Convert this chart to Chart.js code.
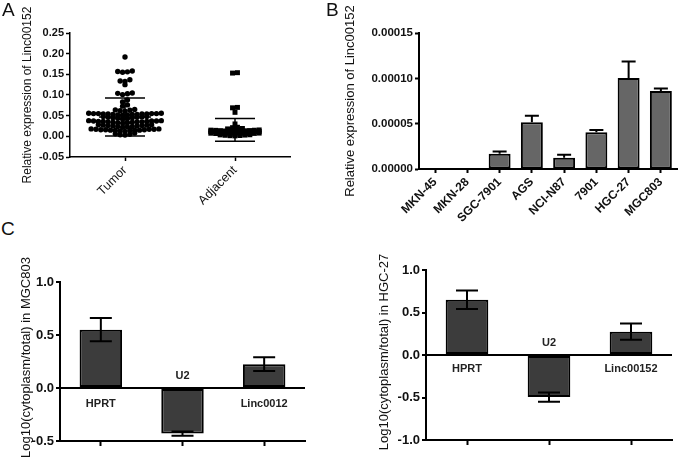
<!DOCTYPE html>
<html>
<head>
<meta charset="utf-8">
<script src="https://cdn.jsdelivr.net/npm/chart.js"></script>
<style>
  body { margin: 0; background: #fff; width: 685px; height: 457px; position: relative; overflow: hidden; font-family: "Liberation Sans", Arial, sans-serif; }
  canvas { position: absolute; }
  .tag { position: absolute; font-size: 19px; line-height: 19px; color: #111; }
</style>
</head>
<body>
<canvas id="chartA" width="300" height="215" style="left:0;top:0"></canvas>
<canvas id="chartB" width="385" height="230" style="left:300px;top:0"></canvas>
<canvas id="chartC1" width="330" height="217" style="left:0;top:240px"></canvas>
<canvas id="chartC2" width="345" height="217" style="left:340px;top:240px"></canvas>
<div class="tag" style="left:2px;top:0">A</div>
<div class="tag" style="left:326px;top:0">B</div>
<div class="tag" style="left:1px;top:219px">C</div>
<script>
// --- panel A : Linc00152 in tissue ---
const groupsA = ['Tumor', 'Adjacent'];
const groupPosA = [1, 3];
const tumorValues = [
  0.192,
  0.157, 0.155, 0.156, 0.158,
  0.137, 0.134, 0.133, 0.125,
  0.105, 0.103, 0.104, 0.101,
  0.088, 0.083, 0.076, 0.073,
  0.065, 0.063, 0.062, 0.064, 0.061,
  0.056, 0.055, 0.054, 0.055, 0.053, 0.054, 0.052, 0.056, 0.055, 0.053, 0.054, 0.052, 0.055, 0.051, 0.053, 0.054,
  0.048, 0.046, 0.047, 0.045, 0.044, 0.048, 0.043, 0.046, 0.042, 0.045,
  0.038, 0.037, 0.036, 0.035, 0.037, 0.034, 0.036, 0.033, 0.035, 0.038, 0.034, 0.036, 0.032, 0.035, 0.037, 0.033,
  0.028, 0.027, 0.026, 0.025, 0.027, 0.024, 0.026, 0.023, 0.025, 0.022, 0.028, 0.024,
  0.018, 0.017, 0.016, 0.015, 0.017, 0.014, 0.016, 0.013, 0.015, 0.018, 0.014, 0.016, 0.012, 0.015, 0.017,
  0.008, 0.006, 0.005, 0.004, 0.003
];
const adjacentValues = [
  0.154, 0.153,
  0.070, 0.069, 0.058,
  0.030,
  0.022, 0.021,
  0.019, 0.018, 0.017, 0.0165,
  0.0155, 0.015, 0.0148, 0.0145, 0.014, 0.0138, 0.0135, 0.013, 0.0128, 0.0125, 0.0121,
  0.0118, 0.0115, 0.011, 0.0108, 0.0105, 0.010, 0.0098, 0.0095, 0.009, 0.0088, 0.0085, 0.0081,
  0.0078, 0.0075, 0.007, 0.0068, 0.0065, 0.006, 0.0058, 0.0055, 0.005, 0.0045, 0.0042,
  0.0038, 0.0035, 0.003, 0.0025, 0.002, 0.0015, 0.001
];
const meanA = [0.047, 0.0155];
const sdA = [0.046, 0.0275];
const ticksA = [-0.05, 0, 0.05, 0.10, 0.15, 0.20, 0.25];

// --- panel B : cell lines ---
const cellLines = ['MKN-45', 'MKN-28', 'SGC-7901', 'AGS', 'NCI-N87', '7901', 'HGC-27', 'MGC803'];
const cellExpr = [0.0000005, 0.000001, 0.0000168, 0.0000515, 0.0000124, 0.0000405, 0.0001004, 0.000086];
const cellErr = [0, 0, 0.0000025, 0.0000073, 0.0000033, 0.0000025, 0.0000182, 0.0000027];
const ticksB = [0, 0.00005, 0.0001, 0.00015];

// --- panel C : cytoplasm / total ---
const fractionsMGC = ['HPRT', 'U2', 'Linc0012'];
const mgcLog = [0.55, -0.43, 0.225];
const mgcErr = [0.11, 0.02, 0.065];
const ticksC1 = [-0.5, 0, 0.5, 1.0];

const fractionsHGC = ['HPRT', 'U2', 'Linc00152'];
const hgcLog = [0.65, -0.495, 0.275];
const hgcErr = [0.11, 0.055, 0.095];
const ticksC2 = [-1.0, -0.5, 0, 0.5, 1.0];

Chart.defaults.font.family = '"Liberation Sans", Arial, sans-serif';
Chart.defaults.color = '#111';
Chart.defaults.animation = false;
Chart.defaults.responsive = false;
Chart.defaults.plugins.legend.display = false;
Chart.defaults.plugins.tooltip.enabled = false;

// rotated axis title, drawn without squeezing
const sideTitle = {
  id: 'sideTitle',
  afterDraw(chart, args, o) {
    const { ctx, chartArea } = chart;
    ctx.save();
    ctx.translate(o.x, (chartArea.top + chartArea.bottom) / 2 + (o.dy || 0));
    ctx.rotate(-Math.PI / 2);
    ctx.font = o.font;
    ctx.fillStyle = '#111';
    ctx.textAlign = 'center';
    ctx.textBaseline = 'middle';
    ctx.fillText(o.text, 0, 0);
    ctx.restore();
  }
};

const errorBars = {
  id: 'errorBars',
  afterDatasetsDraw(chart, args, o) {
    const { ctx } = chart;
    const y = chart.scales.y;
    const ds = chart.data.datasets[0];
    ctx.save();
    ctx.strokeStyle = '#000';
    ctx.lineWidth = o.lineWidth;
    chart.getDatasetMeta(0).data.forEach((bar, i) => {
      const v = ds.data[i], e = o.err[i];
      if (!e) return;
      const sign = v < 0 ? -1 : 1;
      const far = y.getPixelForValue(v + sign * e);
      const near = o.oneSided ? y.getPixelForValue(v) : y.getPixelForValue(v - sign * e);
      ctx.beginPath();
      ctx.moveTo(bar.x, near); ctx.lineTo(bar.x, far);
      ctx.moveTo(bar.x - o.cap, far); ctx.lineTo(bar.x + o.cap, far);
      if (!o.oneSided) { ctx.moveTo(bar.x - o.cap, near); ctx.lineTo(bar.x + o.cap, near); }
      ctx.stroke();
    });
    ctx.restore();
  }
};

const barLabels = {
  id: 'barLabels',
  afterDatasetsDraw(chart, args, o) {
    const { ctx } = chart;
    const y0 = chart.scales.y.getPixelForValue(0);
    const ds = chart.data.datasets[0];
    ctx.save();
    ctx.font = o.font;
    ctx.fillStyle = '#222';
    ctx.textAlign = 'center';
    ctx.textBaseline = 'middle';
    chart.getDatasetMeta(0).data.forEach((bar, i) => {
      const ty = ds.data[i] >= 0 ? y0 + o.below : y0 - o.above;
      ctx.fillText(chart.data.labels[i], bar.x, ty);
    });
    ctx.restore();
  }
};

const meanSd = {
  id: 'meanSd',
  afterDatasetsDraw(chart, args, o) {
    const { ctx, scales: { x, y } } = chart;
    ctx.save();
    ctx.strokeStyle = '#000';
    ctx.lineWidth = 1.5;
    o.pos.forEach((p, i) => {
      const cx = x.getPixelForValue(p);
      const m = y.getPixelForValue(o.mean[i]);
      const hi = y.getPixelForValue(o.mean[i] + o.sd[i]);
      const lo = y.getPixelForValue(o.mean[i] - o.sd[i]);
      ctx.beginPath();
      ctx.moveTo(cx, hi); ctx.lineTo(cx, lo);
      ctx.moveTo(cx - o.meanHalf, m); ctx.lineTo(cx + o.meanHalf, m);
      ctx.moveTo(cx - o.capHalf, hi); ctx.lineTo(cx + o.capHalf, hi);
      ctx.moveTo(cx - o.capHalf, lo); ctx.lineTo(cx + o.capHalf, lo);
      ctx.stroke();
    });
    ctx.restore();
  }
};

// spread points of one column in rows (dot plot layout)
function swarm(values, center, bin, step, maxHalf) {
  const rows = {};
  values.forEach(v => {
    const k = Math.floor(v / bin + 1e-9);
    (rows[k] = rows[k] || []).push(v);
  });
  const pts = [];
  Object.values(rows).forEach(row => {
    row.sort((a, b) => a - b);
    const n = row.length;
    const s = n > 1 ? Math.min(step, 2 * maxHalf / (n - 1)) : 0;
    const offs = row.map((_, j) => (j - (n - 1) / 2) * s)
      .sort((a, b) => Math.abs(a) - Math.abs(b) || a - b);
    row.forEach((v, j) => pts.push({ x: center + offs[j], y: v }));
  });
  return pts;
}

function yAxis(min, max, tickVals, width, digits, size, bw) {
  return {
    min, max,
    afterBuildTicks: s => { s.ticks = tickVals.map(v => ({ value: v })); },
    afterFit: s => { s.width = width; },
    border: { color: '#000', width: bw },
    grid: { drawOnChartArea: false, tickLength: 4, tickColor: '#000', tickWidth: bw },
    ticks: { color: '#111', padding: 2, font: { size, weight: 'bold' }, callback: v => v.toFixed(digits) }
  };
}

// A: scatter dot plot (x units: 55 px each)
new Chart(document.getElementById('chartA'), {
  type: 'scatter',
  data: {
    datasets: [
      { data: swarm(tumorValues, groupPosA[0], 0.01, 0.088, 0.68), pointStyle: 'circle', pointRadius: 2.7,
        backgroundColor: '#000', borderColor: '#000', borderWidth: 0 },
      { data: swarm(adjacentValues, groupPosA[1], 0.004, 0.09, 0.44), pointStyle: 'rect', pointRadius: 3.5,
        backgroundColor: '#000', borderColor: '#000', borderWidth: 0 }
    ]
  },
  options: {
    layout: { padding: { left: 0, top: 33, right: 10, bottom: 0 } },
    scales: {
      x: {
        type: 'linear', min: 0, max: 4,
        afterBuildTicks: s => { s.ticks = groupPosA.map(v => ({ value: v })); },
        afterFit: s => { s.height = 58; },
        border: { color: '#000', width: 1.5 },
        grid: { drawOnChartArea: false, tickLength: 4, tickColor: '#000', tickWidth: 1.5 },
        ticks: { color: '#111', minRotation: 45, maxRotation: 45, autoSkip: false, padding: 2,
          font: { size: 12.5 }, callback: v => groupsA[groupPosA.indexOf(v)] }
      },
      y: yAxis(-0.05, 0.25, ticksA, 70, 2, 11, 1.5)
    },
    plugins: {
      sideTitle: { text: 'Relative expression of Linc00152', x: 28, font: '12px "Liberation Sans", Arial, sans-serif' },
      meanSd: { pos: groupPosA, mean: meanA, sd: sdA, meanHalf: 26, capHalf: 20 }
    }
  },
  plugins: [sideTitle, meanSd]
});

// B: cell lines
new Chart(document.getElementById('chartB'), {
  type: 'bar',
  data: {
    labels: cellLines,
    datasets: [{ data: cellExpr, backgroundColor: '#666666', borderColor: '#000', borderWidth: 2,
      borderSkipped: false, barPercentage: 0.68, categoryPercentage: 1 }]
  },
  options: {
    layout: { padding: { left: 0, top: 33, right: 8, bottom: 0 } },
    scales: {
      x: {
        afterFit: s => { s.height = 61; },
        border: { color: '#000', width: 2 },
        grid: { offset: false, drawOnChartArea: false, tickLength: 4, tickColor: '#000', tickWidth: 2 },
        ticks: { color: '#111', minRotation: 45, maxRotation: 45, autoSkip: false, padding: 2,
          font: { size: 12, weight: 'bold' } }
      },
      y: yAxis(0, 0.00015, ticksB, 119, 5, 11.5, 2)
    },
    plugins: {
      sideTitle: { text: 'Relative expression of Linc00152', x: 50, font: '13px "Liberation Sans", Arial, sans-serif' },
      errorBars: { err: cellErr, cap: 7, lineWidth: 2, oneSided: true }
    }
  },
  plugins: [sideTitle, errorBars]
});

function fractionChart(id, labels, values, errs, ticks, min, top, right, width, xh, titleText, titleX, dy, below) {
  const y = yAxis(min, 1.0, ticks, width, 1, 13, 2);
  y.grid = { drawOnChartArea: true, color: c => (c.tick && c.tick.value === 0 ? '#000' : 'rgba(0,0,0,0)'),
    lineWidth: 2, tickLength: 4, tickColor: '#000', tickWidth: 2 };
  new Chart(document.getElementById(id), {
    type: 'bar',
    data: {
      labels,
      datasets: [{ data: values, backgroundColor: '#3c3c3c', borderColor: '#000', borderWidth: 2,
        borderSkipped: false, barPercentage: 0.52, categoryPercentage: 1 }]
    },
    options: {
      layout: { padding: { left: 0, top, right, bottom: 0 } },
      scales: {
        x: {
          afterFit: s => { s.height = xh; },
          border: { color: '#000', width: 2 },
          grid: { offset: false, drawOnChartArea: false, tickLength: 5, tickColor: '#000', tickWidth: 2 },
          ticks: { display: false }
        },
        y
      },
      plugins: {
        sideTitle: { text: titleText, x: titleX, dy, font: '13px "Liberation Sans", Arial, sans-serif' },
        errorBars: { err: errs, cap: 11, lineWidth: 2, oneSided: false },
        barLabels: { font: 'bold 11px "Liberation Sans", Arial, sans-serif', below, above: 12 }
      }
    },
    plugins: [sideTitle, errorBars, barLabels]
  });
}

fractionChart('chartC1', fractionsMGC, mgcLog, mgcErr, ticksC1, -0.5, 42, 25, 60, 16,
  'Log10(cytoplasm/total) in MGC803', 26, -4, 16);
fractionChart('chartC2', fractionsHGC, hgcLog, hgcErr, ticksC2, -1.0, 30, 13, 86, 17,
  'Log10(cytoplasm/total) in HGC-27', 44, -3, 14);
</script>
</body>
</html>
